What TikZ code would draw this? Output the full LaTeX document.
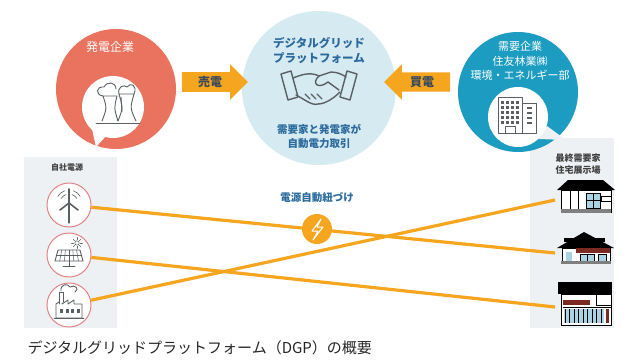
\documentclass[tikz,border=0pt]{standalone}
\usepackage{fontspec}
\setmainfont{Noto Sans CJK JP}
\usetikzlibrary{shapes.arrows}

\definecolor{salmon}{HTML}{E9735F}
\definecolor{azulverde}{HTML}{1B9CC0}
\definecolor{celeste}{HTML}{D6EAF2}
\definecolor{naranja}{HTML}{F5A51E}
\definecolor{gris}{HTML}{EEF1F3}
\definecolor{texto}{HTML}{2B6A9C}
\definecolor{textoflecha}{HTML}{3B4A5C}
\definecolor{icono}{HTML}{5A5F63}
\definecolor{rosa}{HTML}{E08585}
\definecolor{ventana}{HTML}{A9D3E3}
\definecolor{ladrillo}{HTML}{7A2A20}

\tikzset{
    flecha/.style={single arrow, fill=naranja, single arrow head extend=8pt,
        minimum height=66pt, inner xsep=2pt, inner ysep=4pt, text=textoflecha,
        font=\fontsize{12}{12}\selectfont\bfseries},
    fuente/.style={circle, draw=rosa, line width=1pt, fill=white, minimum size=44pt, inner sep=0pt},
    enlace/.style={naranja, line width=3.2pt},
    icon/.style={icono, line width=0.9pt, line join=round, line cap=round},
    casa/.style={draw=black, line width=0.9pt, fill=white}
}

\begin{document}
\begin{tikzpicture}[x=1pt, y=-1pt]
    \useasboundingbox (0,0) rectangle (642,362);

    % Paneles grises
    \fill[gris] (24,157) rectangle (117,328);
    \fill[gris] (530,138) rectangle (614,328);

    % Círculos principales
    \node[circle, fill=celeste, minimum size=154pt, inner sep=0pt] (dgp) at (319,88) {};
    \node[circle, fill=salmon, minimum size=120pt, inner sep=0pt] (hatsuden) at (116,89) {};
    \node[circle, fill=azulverde, minimum size=120pt, inner sep=0pt] (juyo) at (518,92) {};

    % Huecos blancos con cola
    \fill[white] (113,107) circle[radius=31pt];
    \fill[white] (92,129) -- (96,147) -- (106,136) -- cycle;
    \fill[gris] (539,139) -- (547,126) -- (566,140) -- cycle;
    \fill[white] (518,117) circle[radius=30pt];

    % Central eléctrica
    \draw[icon] (96,123) -- (140,123);
    \draw[icon] (102,121) .. controls (107,108) .. (103,96) -- (117,96) .. controls (114,108) .. (118,121);
    \draw[icon] (118,121) .. controls (123,108) .. (119,94) -- (134,94) .. controls (130,108) .. (136,121);
    \draw[icon] (103,96) .. controls (95,95) and (96,86) .. (104,87) .. controls (107,81) and (116,82) .. (116,89);
    \draw[icon] (119,94) .. controls (117,87) and (124,84) .. (127,87) .. controls (130,82) and (138,85) .. (134,94);
    \draw[icon] (121,97) -- (122,112);

    % Apretón de manos
    \draw[icon, line width=1.4pt] (281,74) -- (291,71) -- (298,97) -- (288,100) -- cycle;
    \draw[icon, line width=1.4pt] (357,74) -- (347,71) -- (340,97) -- (350,100) -- cycle;
    \draw[icon, line width=1.4pt] (293,78) .. controls (303,74) and (311,72) .. (319,76)
        -- (331,72) .. controls (338,72) and (343,75) .. (346,77);
    \draw[icon, line width=1.4pt] (319,76) .. controls (311,83) and (318,90) .. (328,82) -- (339,90);
    \draw[icon, line width=1.4pt] (296,95) .. controls (304,99) and (312,106) .. (318,104)
        .. controls (326,104) and (335,97) .. (340,92);
    \foreach \x in {305,311,317}
        \draw[icon, line width=1.4pt] (\x,94) -- (\x+5,99);

    % Edificio de oficinas
    \draw[icon, fill=white] (498,97) rectangle (522,133);
    \draw[icon, fill=white] (522,103) rectangle (536,133);
    \foreach \i in {0,1,2,3} {
        \foreach \j in {0,1,2,3,4}
            \fill[icono] (501+\i*5,101+\j*5) rectangle (504+\i*5,104+\j*5);
    }
    \foreach \j in {0,1,2,3}
        \fill[icono] (527,107+\j*5) rectangle (532,109+\j*5);
    \draw[icon] (505,133) -- (505,126) -- (515,126) -- (515,133);

    % Textos de los círculos
    \node[font=\fontsize{12}{12}\selectfont, text=white] (t-hatsuden) at (110,47) {発電企業};
    \node[font=\fontsize{11.5}{15}\selectfont\bfseries, text=texto, align=center] (t-dgp) at (319,51)
        {デジタルグリッド\\プラットフォーム};
    \node[font=\fontsize{10.5}{14}\selectfont\bfseries, text=texto, align=center] (t-torihiki) at (319,136)
        {需要家と発電家が\\自動電力取引};
    \node[font=\fontsize{11}{14.5}\selectfont, text=white, align=center] (t-juyo) at (520,61)
        {需要企業\\住友林業㈱\\環境・エネルギー部};

    % Flechas de compra y venta
    \node[flecha] (baiden) at (210,82) {売電};
    \node[flecha, shape border rotate=180] (kaiden) at (422,82) {買電};

    % Fuentes propias
    \node[font=\fontsize{8}{8}\selectfont\bfseries, text=black!75] (t-jisha) at (67,167) {自社電源};
    \node[fuente] (fuente1) at (69,205) {};
    \node[fuente] (fuente2) at (69,255) {};
    \node[fuente] (fuente3) at (69,305) {};

    % Viviendas
    \node[font=\fontsize{9}{12}\selectfont\bfseries, text=black!75, align=center] (t-casas) at (578,164)
        {最終需要家\\住宅展示場};
    \coordinate (casa1) at (555,200);
    \coordinate (casa2) at (555,253);
    \coordinate (casa3) at (555,307);

    % Enlaces automáticos
    \draw[enlace] (fuente1) -- (casa2);
    \draw[enlace] (fuente2) -- (casa3);
    \draw[enlace] (fuente3) -- (casa1);
    \node[font=\fontsize{10.5}{10.5}\selectfont\bfseries, text=texto] (t-enlace) at (317,198) {電源自動紐づけ};
    \node[circle, fill=naranja, minimum size=30pt, inner sep=0pt] (rayo) at (317,229) {};
    \draw[white, line width=1pt, line join=round] (321,219) -- (312,231) -- (318,231) -- (313,240)
        -- (323,227) -- (317,227) -- cycle;

    % Aerogenerador
    \draw[icon, line width=1.2pt] (69,204) -- (69,223);
    \draw[icon, line width=1.6pt] (69,203) -- (69,189) (69,203) -- (60,210) (69,203) -- (78,210);
    \foreach \r in {9,13} {
        \draw[icon, line width=0.6pt] (69,203) ++(150:\r pt) arc[start angle=150, end angle=110, radius=\r pt];
        \draw[icon, line width=0.6pt] (69,203) ++(30:\r pt) arc[start angle=30, end angle=70, radius=\r pt];
    }

    % Panel solar
    \draw[icon, fill=white] (58,250) -- (80,250) -- (83,261) -- (55,261) -- cycle;
    \foreach \k in {1,2,3,4,5}
        \draw[icon, line width=0.5pt] (58+\k*3.7,250) -- (55+\k*4.7,261);
    \draw[icon, line width=0.5pt] (56.5,255.5) -- (81.5,255.5);
    \draw[icon] (69,261) -- (69,266) (63,266) -- (75,266);
    \draw[icon, line width=0.6pt] (77,243) circle[radius=2.2pt];
    \foreach \a in {0,45,...,315}
        \draw[icon, line width=0.5pt] (77,243) ++(\a:3.4pt) -- ++(\a:2pt);

    % Fábrica
    \draw[icon, fill=white] (56,318) -- (56,304) -- (62,300) -- (62,304) -- (68,300) -- (68,304)
        -- (74,300) -- (74,304) -- (82,304) -- (82,318) -- cycle;
    \draw[icon, fill=white] (59,304) -- (59,292) -- (63,292) -- (63,302);
    \draw[icon] (61,291) .. controls (60,284) and (68,283) .. (70,287) .. controls (75,284) and (80,289) .. (75,292);
    \foreach \k in {0,1,2,3}
        \fill[icono] (60+\k*5.5,309) rectangle (63+\k*5.5,313);
    \draw[icon] (54,318) -- (84,318);

    % Casa 1
    \fill[black] (557,190) -- (568,180) -- (603,180) -- (615,190) -- cycle;
    \draw[casa] (561,190) rectangle (611,212);
    \fill[gray] (561,209) rectangle (611,213);
    \draw[black, line width=0.8pt] (570,190) -- (570,209) (578,190) -- (578,209);
    \fill[ventana] (586,193) rectangle (600,208);
    \draw[black, line width=0.5pt] (586,193) rectangle (600,208) (593,193) -- (593,208) (586,200) -- (600,200);
    \draw[black, line width=0.6pt] (601,196) rectangle (611,201);

    % Casa 2
    \fill[black] (557,248) -- (584,232) -- (614,248) -- cycle;
    \fill[black] (564,238) rectangle (605,242);
    \draw[casa] (562,248) rectangle (610,262);
    \fill[ladrillo] (576,248) rectangle (610,253);
    \fill[ventana] (566,252) rectangle (572,261);
    \fill[ventana] (580,254) rectangle (594,261);
    \fill[ventana] (598,254) rectangle (606,261);
    \draw[black, line width=0.5pt] (580,254) rectangle (594,261) (587,254) -- (587,261) (598,254) rectangle (606,261);
    \fill[gray] (561,261) rectangle (611,264);

    % Casa 3
    \fill[black] (558,282) rectangle (612,294);
    \draw[casa] (561,294) rectangle (611,325);
    \fill[ladrillo] (563,300) rectangle (590,305);
    \draw[black, line width=0.6pt] (596,294) -- (596,305) -- (611,305);
    \fill[ventana] (564,309) rectangle (604,323);
    \foreach \k in {0,1,...,8}
        \draw[black, line width=0.6pt] (565+\k*4.5,309) -- (565+\k*4.5,323);
    \draw[black, line width=0.6pt] (563,307) -- (611,307);
    \fill[ladrillo] (606,309) rectangle (609,323);

    % Pie de figura
    \node[anchor=west, font=\fontsize{15}{15}\selectfont, text=black!85] (pie) at (24,348)
        {デジタルグリッドプラットフォーム（DGP）の概要};
\end{tikzpicture}
\end{document}
